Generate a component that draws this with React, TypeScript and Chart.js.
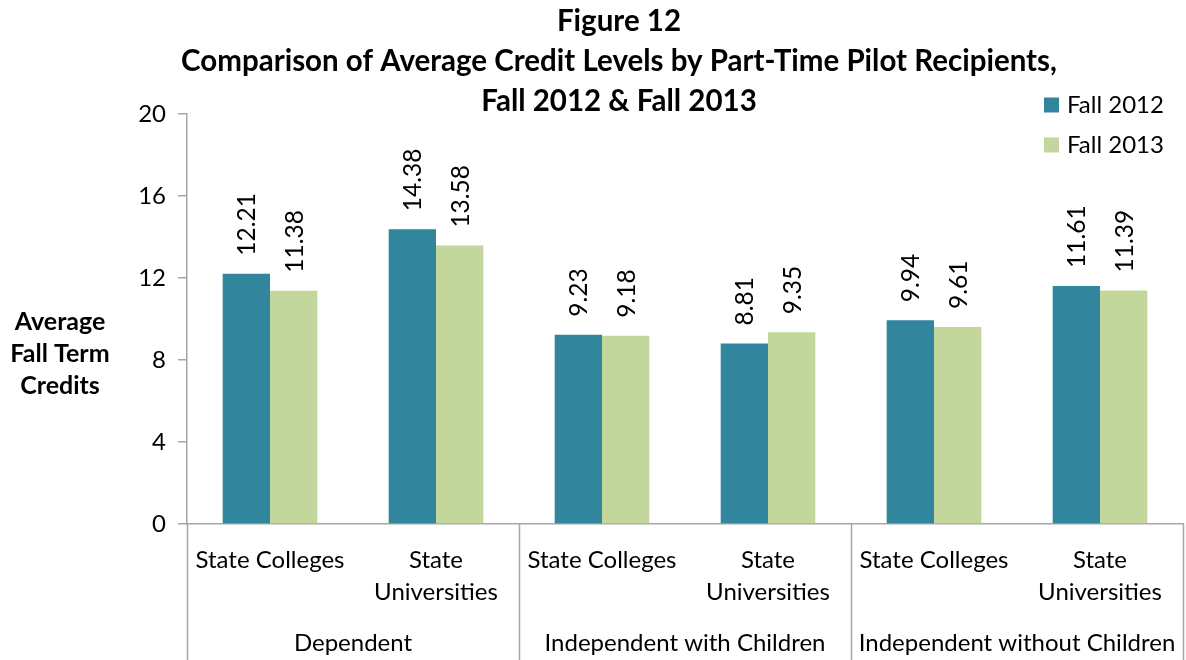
import React, { useEffect, useRef } from "react";
import { Chart, registerables } from "chart.js";

Chart.register(...registerables);

const categories: string[][] = [
  ["State Colleges"],
  ["State", "Universities"],
  ["State Colleges"],
  ["State", "Universities"],
  ["State Colleges"],
  ["State", "Universities"],
];
const groups = ["Dependent", "Independent with Children", "Independent without Children"];
const groupSize = 2;
const fall2012 = [12.21, 14.38, 9.23, 8.81, 9.94, 11.61];
const fall2013 = [11.38, 13.58, 9.18, 9.35, 9.61, 11.39];
const seriesNames = ["Fall 2012", "Fall 2013"];
const seriesColors = ["#31859C", "#C3D69B"];
const titleLines = [
  "Figure 12",
  "Comparison of Average Credit Levels by Part-Time Pilot Recipients,",
  "Fall 2012 & Fall 2013",
];
const yTitleLines = ["Average", "Fall Term", "Credits"];
const yMin = 0;
const yMax = 20;
const yStep = 4;

const FONT = "Lato, 'Open Sans', sans-serif";
const AXIS_GRAY = "#A6A6A6";

const customPlugin = {
  id: "custom",
  afterDraw(chart: any) {
    const ctx = chart.ctx;
    const area = chart.chartArea;
    const x = chart.scales.x;
    ctx.save();
    // Title
    ctx.fillStyle = "#000";
    ctx.font = `bold 29.5px ${FONT}`;
    ctx.textAlign = "center";
    ctx.textBaseline = "middle";
    titleLines.forEach((t, i) => ctx.fillText(t, 619, 21 + i * 40));

    // Y title
    ctx.font = `bold 25px ${FONT}`;
    yTitleLines.forEach((t, i) => ctx.fillText(t, 60, 322 + i * 32));

    // Data labels (rotated)
    ctx.font = `24.5px ${FONT}`;
    chart.data.datasets.forEach((ds: any, di: number) => {
      const meta = chart.getDatasetMeta(di);
      meta.data.forEach((bar: any, i: number) => {
        const v = ds.data[i];
        ctx.save();
        ctx.translate(bar.x, bar.y - 18);
        ctx.rotate(-Math.PI / 2);
        ctx.textAlign = "left";
        ctx.textBaseline = "middle";
        ctx.fillText(v.toFixed(2), 0, 1);
        ctx.restore();
      });
    });

    // Category labels
    ctx.font = `24px ${FONT}`;
    ctx.textAlign = "center";
    ctx.textBaseline = "middle";
    categories.forEach((lines, i) => {
      const cx = x.getPixelForValue(i);
      lines.forEach((l, j) => ctx.fillText(l, cx, 560 + j * 32));
    });

    // Group labels and separators
    const catW = (area.right - area.left) / categories.length;
    ctx.strokeStyle = AXIS_GRAY;
    ctx.lineWidth = 1.5;
    for (let g = 0; g <= groups.length; g++) {
      const sx = area.left + g * groupSize * catW;
      ctx.beginPath();
      ctx.moveTo(Math.round(sx) + 0.5, area.bottom);
      ctx.lineTo(Math.round(sx) + 0.5, 660);
      ctx.stroke();
    }
    groups.forEach((g, gi) => {
      const cx = area.left + (gi + 0.5) * groupSize * catW;
      ctx.fillText(g, cx, 643);
    });

    // Legend
    ctx.textAlign = "left";
    seriesNames.forEach((n, i) => {
      const y = 105 + i * 40;
      ctx.fillStyle = seriesColors[i];
      ctx.fillRect(1044, y - 7.5, 15, 15);
      ctx.fillStyle = "#000";
      ctx.fillText(n, 1067, y);
    });
    ctx.restore();
  },
};

export default function App() {
  const ref = useRef<HTMLCanvasElement>(null);
  useEffect(() => {
    if (!ref.current) return;
    const chart = new Chart(ref.current, {
      type: "bar",
      data: {
        labels: categories.map((c) => c.join(" ")),
        datasets: [
          { label: seriesNames[0], data: fall2012, backgroundColor: seriesColors[0], categoryPercentage: 0.57, barPercentage: 1 },
          { label: seriesNames[1], data: fall2013, backgroundColor: seriesColors[1], categoryPercentage: 0.57, barPercentage: 1 },
        ],
      },
      options: {
        animation: false,
        responsive: false,
        maintainAspectRatio: false,
        layout: { padding: { top: 114, left: 0, right: 3, bottom: 136 } },
        plugins: { legend: { display: false }, title: { display: false }, tooltip: { enabled: false } },
        scales: {
          x: {
            ticks: { display: false },
            grid: { display: false },
            border: { display: true, color: AXIS_GRAY, width: 1.5 },
            afterFit: (s: any) => { s.height = 0; },
          },
          y: {
            min: yMin,
            max: yMax,
            ticks: { stepSize: yStep, color: "#000", font: { size: 24, family: FONT }, padding: 12 },
            grid: { display: true, drawOnChartArea: false, drawTicks: true, tickLength: 9, color: AXIS_GRAY, lineWidth: 1.5 },
            border: { display: true, color: AXIS_GRAY, width: 1.5 },
            afterFit: (s: any) => { s.width = 187; },
          },
        },
      },
      plugins: [customPlugin],
    });
    return () => chart.destroy();
  }, []);
  return (
    <div style={{ position: "fixed", left: 0, top: 0, width: 1186, height: 660, background: "#fff" }}>
      <canvas ref={ref} width={1186} height={660} style={{ width: 1186, height: 660 }} />
    </div>
  );
}
